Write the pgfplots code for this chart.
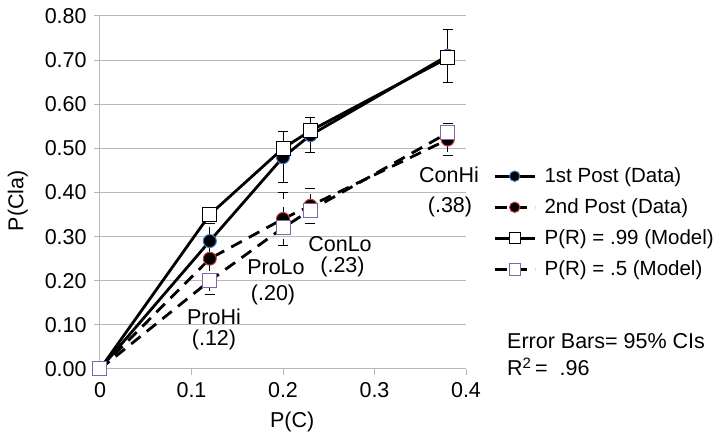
\documentclass[border=0pt]{standalone}
\usepackage{pgfplots}
\pgfplotsset{compat=1.18}
\usepackage{fontspec}
\setmainfont{Liberation Sans}
\definecolor{edgeblue}{RGB}{60,120,200}
\definecolor{edgered}{RGB}{205,60,60}
\definecolor{edgepurple}{RGB}{130,100,170}
\definecolor{gridgray}{RGB}{185,185,185}
\begin{document}
\fontsize{21.5}{25}\selectfont
\begin{tikzpicture}
\begin{axis}[
  scale only axis,
  width=366pt, height=353pt,
  xmin=0, xmax=0.4, ymin=0, ymax=0.8,
  xtick={0,0.1,0.2,0.3,0.4},
  xticklabels={0,0.1,0.2,0.3,0.4},
  ytick={0,0.1,...,0.8},
  yticklabel style={/pgf/number format/.cd, fixed, fixed zerofill, precision=2},
  /pgf/number format/assume math mode=true,
  ticklabel style={font=\fontsize{21.5}{25}\selectfont},
  axis lines*=left,
  axis line style={gridgray, line width=1pt},
  ymajorgrids,
  major grid style={gridgray, line width=1pt},
  tick style={gridgray, line width=1pt},
  tick align=outside,
  major tick length=6pt,
  clip=false,
  legend style={draw=none, fill=none, at={(rel axis cs:1.074,0.578)}, anchor=north west,
    font=\fontsize{20.5}{24}\selectfont, row sep=9pt, inner sep=0pt,
    nodes={inner xsep=0.5pt}},
  legend cell align=left,
  legend image code/.code={
    \draw[#1, mark repeat=2, mark phase=2, every mark/.append style={scale=0.8}]
      plot coordinates {(0pt,0pt) (20pt,0pt) (40pt,0pt)};
    \path (48pt,0pt);
  },
  error bars/error bar style={black, line width=0.8pt},
  error bars/error mark options={rotate=90, mark size=5pt, line width=0.8pt, black},
]
\coordinate (sw) at (rel axis cs:0,0);
\coordinate (ne) at (rel axis cs:1,1);

\addplot[black, line width=2.8pt, mark=*, mark size=6.5pt,
  mark options={solid, fill=black, draw=edgeblue, line width=1pt},
  error bars/.cd, y dir=both, y explicit]
  coordinates {(0,0) +- (0,0) (0.12,0.29) +- (0,0) (0.20,0.48) +- (0,0.058)
    (0.23,0.53) +- (0,0.04) (0.38,0.71) +- (0,0.06)};
\addlegendentry{1st Post (Data)}

\addplot[black, line width=2.8pt, dash pattern=on 12pt off 8pt, mark=*, mark size=6.5pt,
  mark options={solid, fill=black, draw=edgered, line width=1pt},
  error bars/.cd, y dir=both, y explicit]
  coordinates {(0,0) +- (0,0) (0.12,0.25) +- (0,0.08) (0.20,0.34) +- (0,0.06)
    (0.23,0.37) +- (0,0.04) (0.38,0.52) +- (0,0.036)};
\addlegendentry{2nd Post (Data)}

\addplot[black, line width=2.8pt, mark=square*, mark size=7pt,
  mark options={solid, fill=white, draw=black, line width=1pt}]
  coordinates {(0,0) (0.12,0.35) (0.20,0.50) (0.23,0.54) (0.38,0.705)};
\addlegendentry{P(R) = .99 (Model)}

\addplot[black, line width=2.8pt, dash pattern=on 12pt off 8pt, mark=square*, mark size=7pt,
  mark options={solid, fill=white, draw=edgepurple, line width=1pt}]
  coordinates {(0,0) (0.12,0.20) (0.20,0.32) (0.23,0.36) (0.38,0.535)};
\addlegendentry{P(R) = .5 (Model)}

\node at (axis cs:0.1246,0.1178) {ProHi};
\node at (axis cs:0.1246,0.0657) {(.12)};
\node at (axis cs:0.1923,0.2317) {ProLo};
\node at (axis cs:0.1891,0.1683) {(.20)};
\node at (axis cs:0.2623,0.2833) {ConLo};
\node at (axis cs:0.2650,0.2317) {(.23)};
\node at (axis cs:0.3814,0.4397) {ConHi};
\node at (axis cs:0.3825,0.3671) {(.38)};
\node[anchor=west, inner sep=0pt] at (axis cs:0.4448,0.0635) {Error Bars= 95\% CIs};
\node[anchor=west, inner sep=0pt] at (axis cs:0.4448,0.0045) {R\textsuperscript{2}\,= \ .96};
\node[rotate=90] at (axis cs:-0.0897,0.381) {P(Cla)};
\node at (axis cs:0.21,-0.121) {P(C)};
\end{axis}
\path (sw) ++(-100pt,-67pt) coordinate (a);
\path (ne) ++(253pt,16pt) coordinate (b);
\path (a) rectangle (b);
\end{tikzpicture}
\end{document}
